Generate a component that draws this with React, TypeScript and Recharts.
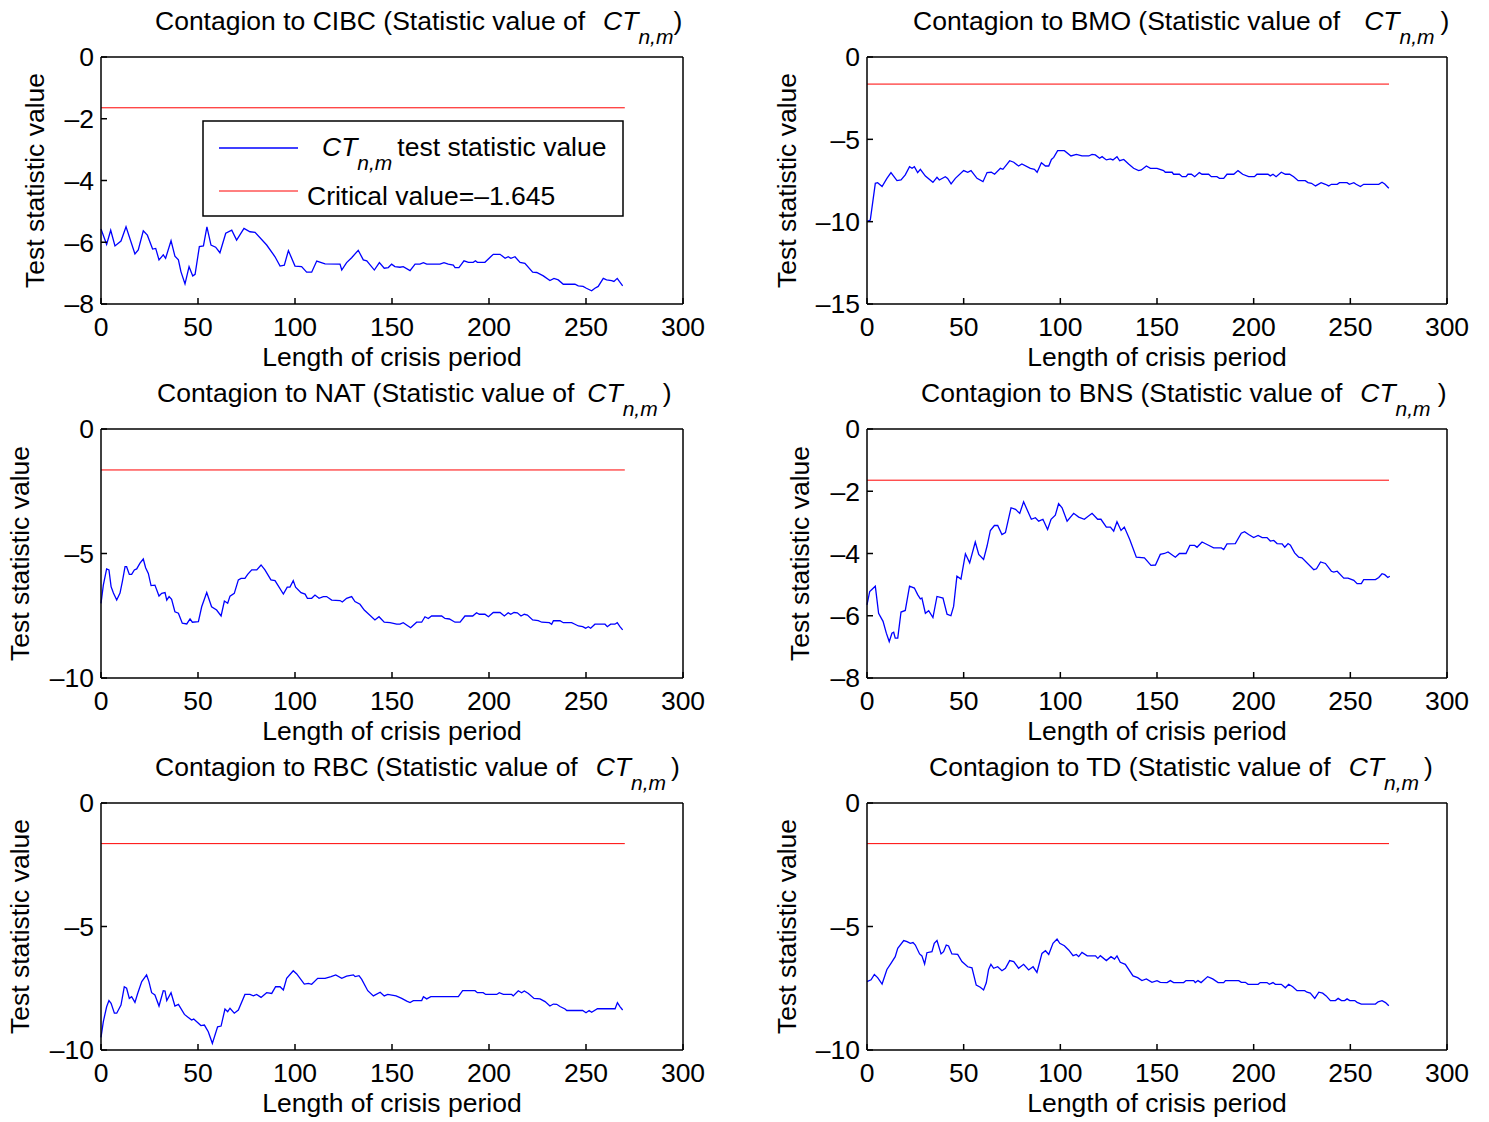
import React from "react";
import { LineChart, Line, XAxis, YAxis } from "recharts";

// Six MATLAB-style panels: CT_{n,m} contagion test statistic vs crisis length.

const FONT = "'Liberation Sans', Arial, Helvetica, sans-serif";
const FS = 26.5;

const xTicks = [0, 50, 100, 150, 200, 250, 300];
const criticalValue = -1.645;
const criticalSpan = [0, 270];

// [length of crisis period, statistic value]
const cibc: [number, number][] = [
  [0, -5.57], [2.9, -6.07], [5, -5.61], [7.2, -6.12], [10.3, -5.96], [12.9, -5.5], [17.5, -6.38], [19.2, -6.25],
  [21.8, -5.63], [23.9, -5.77], [26.6, -6.22], [28.2, -6.2], [29.9, -6.57], [32.1, -6.41], [33.3, -6.52], [36.1, -5.95],
  [38.1, -6.45], [39.9, -6.57], [41.2, -6.95], [43.3, -7.35], [45.4, -6.79], [47.3, -7.09], [48.5, -7.04], [50.7, -6.14],
  [52.8, -6.12], [54.6, -5.5], [56.7, -6.09], [59.1, -6.16], [61.3, -6.34], [64.3, -5.71], [67.4, -5.61], [69.9, -5.93],
  [73.7, -5.55], [76.8, -5.66], [79.4, -5.68], [85.4, -6.09], [89.7, -6.47], [92.3, -6.77], [94.5, -6.74], [96.6, -6.27],
  [100, -6.77], [103.4, -6.79], [106, -6.97], [108.6, -6.97], [111.2, -6.61], [115.5, -6.7], [123.2, -6.71], [124.1, -6.9],
  [126.6, -6.66], [129.2, -6.5], [132.6, -6.26], [135.2, -6.57], [137, -6.6], [140.9, -6.9], [143.5, -6.66], [146, -6.84],
  [148.1, -6.82], [149.8, -6.71], [151.5, -6.79], [154.1, -6.81], [155.8, -6.79], [159.3, -6.92], [161.9, -6.71],
  [164.4, -6.71], [166.2, -6.66], [167.9, -6.71], [174.7, -6.71], [176.8, -6.66], [179, -6.71], [181.6, -6.74],
  [182.5, -6.82], [184.5, -6.82], [187.1, -6.6], [189.4, -6.65], [191.9, -6.65], [193, -6.6], [194, -6.65], [197.9, -6.65],
  [202.2, -6.39], [205.7, -6.39], [208.3, -6.52], [209.9, -6.47], [211.3, -6.52], [213.4, -6.47], [216, -6.65],
  [218.5, -6.68], [222.5, -6.97], [224.6, -6.98], [228, -7.09], [231.4, -7.24], [233.5, -7.17], [235.7, -7.22],
  [238.3, -7.36], [244.3, -7.36], [246, -7.41], [248.5, -7.43], [250.2, -7.49], [252.9, -7.57], [254.6, -7.49],
  [256.3, -7.43], [258.9, -7.17], [260.6, -7.22], [263.2, -7.24], [264.4, -7.27], [266.1, -7.17], [267.2, -7.27],
  [268.9, -7.41],
];

const bmo: [number, number][] = [
  [0, -10.0], [1.7, -9.9], [4.3, -7.67], [5.5, -7.63], [7.8, -7.87], [10.3, -7.37], [12.4, -7.02], [15.5, -7.51],
  [17.6, -7.47], [19.8, -7.16], [22, -6.66], [23.3, -6.76], [24.5, -6.66], [26.2, -7.02], [27.6, -6.82], [30.2, -7.23],
  [34.1, -7.61], [36.2, -7.31], [37.4, -7.47], [40.5, -7.27], [41.7, -7.37], [43.5, -7.71], [45.7, -7.37], [50, -6.9],
  [52.1, -7.0], [53.8, -6.9], [56.9, -7.37], [60, -7.57], [62.1, -7.02], [64.3, -7.0], [66, -7.12], [69, -6.76],
  [70.3, -6.82], [73.8, -6.3], [75.9, -6.39], [78.4, -6.62], [80.1, -6.5], [84.5, -6.76], [86.6, -6.82], [88, -7.0],
  [90.2, -6.42], [92.3, -6.62], [94, -6.62], [95.4, -6.22], [96.6, -6.1], [98.6, -5.69], [102.1, -5.69], [105.5, -6.01],
  [108.3, -5.91], [111.2, -6.01], [114.7, -6.01], [116.4, -5.91], [118.1, -5.95], [120.3, -6.15], [121.6, -6.05],
  [123.8, -6.25], [125.9, -6.19], [127.2, -6.25], [129.3, -6.05], [130.7, -6.3], [132.8, -6.22], [135.3, -6.5],
  [137.9, -6.76], [140.5, -6.9], [141.9, -6.86], [144.5, -6.62], [146.6, -6.76], [150, -6.76], [153.4, -6.9],
  [154.3, -7.0], [157.8, -7.0], [158.6, -7.12], [161.6, -7.12], [163, -7.27], [165, -7.27], [166, -7.12], [167.8, -7.12],
  [169.5, -7.27], [171.9, -7.02], [173.3, -7.12], [176.7, -7.12], [178.1, -7.27], [181, -7.27], [182.3, -7.37],
  [184.5, -7.37], [186.2, -7.12], [189.7, -7.12], [191.9, -6.9], [194.3, -7.12], [197.4, -7.27], [200.4, -7.27],
  [201.7, -7.12], [207.4, -7.12], [208.6, -7.22], [210, -7.12], [211.6, -7.27], [214.3, -7.0], [216.4, -7.12],
  [218.6, -7.12], [220.7, -7.27], [223, -7.51], [226.7, -7.51], [228.1, -7.63], [229.9, -7.67], [232, -7.83],
  [234.9, -7.63], [237.1, -7.73], [238.8, -7.83], [240.2, -7.73], [243.2, -7.73], [244.4, -7.63], [248.3, -7.63],
  [249.5, -7.73], [251.8, -7.63], [253, -7.73], [255.2, -7.87], [256.9, -7.73], [264.7, -7.73], [266.4, -7.61],
  [267.8, -7.71], [269.9, -7.97],
];

const nat: [number, number][] = [
  [0, -7.0], [1.2, -6.27], [2.9, -5.62], [4.1, -5.66], [5.2, -6.33], [6.4, -6.59], [8.1, -6.87], [9.8, -6.59], [11, -6.13],
  [12.4, -5.53], [13.2, -5.53], [14.6, -5.84], [15.8, -5.84], [17.2, -5.66], [18.4, -5.62], [20.1, -5.39], [21.8, -5.22],
  [23, -5.57], [24.4, -5.8], [25.8, -6.29], [27.8, -6.27], [29.9, -6.71], [31.3, -6.6], [33, -6.57], [33.9, -6.87],
  [35.1, -6.73], [36.4, -6.84], [38.1, -7.34], [39.9, -7.4], [41.9, -7.8], [44.2, -7.83], [45.9, -7.63], [47.1, -7.76],
  [50.2, -7.74], [51.9, -7.14], [54.5, -6.57], [57, -7.14], [59.6, -7.27], [61.9, -7.51], [63.6, -6.91], [65.3, -7.0],
  [66.5, -6.71], [68.7, -6.6], [70.8, -6.06], [72.2, -6.0], [74.2, -6.0], [75.6, -5.84], [77.7, -5.66], [80.3, -5.66],
  [82.5, -5.46], [84.5, -5.66], [87.6, -6.06], [89.7, -6.09], [94, -6.63], [96, -6.35], [97.4, -6.35], [99.1, -6.09],
  [100.3, -6.35], [103.1, -6.57], [105.2, -6.63], [106.4, -6.8], [108.6, -6.8], [110.3, -6.67], [112.4, -6.8],
  [114.6, -6.73], [116.3, -6.73], [118.9, -6.87], [123.2, -6.89], [124.4, -6.95], [126.6, -6.8], [129.2, -6.73],
  [130.9, -6.93], [133.5, -7.04], [135.7, -7.27], [141.2, -7.67], [143.3, -7.54], [146, -7.76], [149, -7.78],
  [152.4, -7.84], [154.1, -7.84], [155.8, -7.78], [159.6, -7.98], [162.7, -7.76], [165.3, -7.76], [167, -7.54],
  [168.7, -7.61], [170.4, -7.51], [175.6, -7.51], [177.3, -7.61], [179.6, -7.63], [182.5, -7.76], [185.1, -7.76],
  [187.6, -7.51], [191.6, -7.51], [193.6, -7.38], [195, -7.44], [197.9, -7.44], [199.7, -7.54], [202.2, -7.37],
  [205.7, -7.37], [207.9, -7.51], [209.9, -7.38], [211.2, -7.44], [212.9, -7.37], [214.6, -7.38], [216.5, -7.51],
  [218.2, -7.44], [219.8, -7.47], [222.5, -7.67], [225.4, -7.7], [227.2, -7.76], [231.1, -7.78], [232.3, -7.84],
  [233.2, -7.7], [236.6, -7.7], [238.3, -7.78], [242.6, -7.78], [244.3, -7.84], [246.1, -7.91], [248.3, -7.94],
  [249.8, -8.0], [251.2, -7.94], [252.4, -8.0], [254.6, -7.84], [259.8, -7.84], [261, -7.94], [262.7, -7.84],
  [264.9, -7.84], [266.1, -7.78], [267.5, -7.94], [268.9, -8.07],
];

const bns: [number, number][] = [
  [0, -5.65], [1.4, -5.22], [4.3, -5.05], [6, -5.92], [8.3, -6.18], [10, -6.56], [11.5, -6.83], [12.9, -6.56],
  [13.8, -6.53], [14.6, -6.72], [15.9, -6.72], [17.6, -5.88], [19.8, -5.83], [22, -5.05], [24.5, -5.11], [26.2, -5.32],
  [27.6, -5.46], [28.4, -5.43], [30.2, -5.92], [31.9, -5.84], [34.1, -6.06], [36.2, -5.38], [39.3, -5.43], [41.4, -5.95],
  [43.4, -6.0], [44.8, -5.7], [46.5, -4.73], [48.6, -4.82], [50.9, -4.01], [53.1, -4.3], [56, -3.63], [57.8, -4.03],
  [60.3, -4.19], [62.1, -3.76], [63.8, -3.26], [65.9, -3.1], [67.6, -3.1], [69.8, -3.39], [71.6, -3.33], [74.5, -2.53],
  [76.8, -2.58], [79, -2.71], [81, -2.34], [85, -2.9], [87.1, -2.85], [88.8, -2.96], [91, -2.9], [93.4, -3.23],
  [95.2, -2.9], [97.4, -2.77], [99.1, -2.4], [100.9, -2.53], [103.5, -2.96], [106.9, -2.71], [109.5, -2.83],
  [112.4, -2.9], [116.4, -2.71], [119.3, -2.9], [121, -2.9], [123.8, -3.15], [125.9, -3.15], [127.6, -3.28],
  [129.3, -2.98], [131.4, -3.26], [133.1, -3.15], [135.9, -3.55], [139.3, -4.12], [143.5, -4.14], [146.9, -4.38],
  [149.2, -4.37], [151.7, -4.03], [153.9, -4.0], [155.7, -3.95], [159.5, -4.12], [161.6, -4.0], [165, -4.0],
  [167, -3.74], [169.5, -3.74], [170.7, -3.8], [173.3, -3.63], [175.9, -3.71], [179.3, -3.82], [183.3, -3.82],
  [184.5, -3.87], [186.2, -3.69], [190.5, -3.68], [193.6, -3.35], [195.3, -3.3], [197.4, -3.39], [200, -3.49],
  [202.3, -3.42], [204.4, -3.49], [206.9, -3.49], [208.6, -3.6], [210.4, -3.58], [212.1, -3.68], [214.7, -3.69],
  [216.1, -3.8], [217.8, -3.68], [219, -3.73], [221.2, -3.98], [223.3, -4.12], [225, -4.14], [231.1, -4.52],
  [232.5, -4.49], [234.6, -4.27], [237.1, -4.32], [240.2, -4.57], [241.4, -4.6], [243.2, -4.57], [246.6, -4.79],
  [248.8, -4.79], [251.8, -4.86], [253.5, -4.97], [255.7, -4.97], [256.9, -4.84], [263, -4.84], [264.7, -4.77],
  [266.4, -4.65], [267.8, -4.68], [269.4, -4.77], [270.4, -4.73],
];

const rbc: [number, number][] = [
  [0, -9.49], [1.2, -8.85], [2.9, -8.25], [4.1, -8.0], [5.2, -8.11], [6.9, -8.51], [8.1, -8.51], [10.3, -8.18],
  [12, -7.44], [13.2, -7.5], [14.6, -7.91], [15.8, -7.84], [17.5, -8.07], [18.9, -7.71], [21, -7.23], [23.5, -6.96],
  [24.7, -7.23], [26.1, -7.68], [27.8, -7.77], [29.9, -8.22], [32.1, -7.6], [33, -7.61], [33.9, -8.0], [36.1, -7.68],
  [38.1, -8.22], [39.9, -8.15], [43, -8.56], [46.7, -8.79], [47.8, -8.75], [51.5, -9.01], [53.3, -8.99], [55.3, -9.26],
  [57.4, -9.73], [60.1, -9.06], [61.9, -9.03], [63.9, -8.34], [65.3, -8.45], [66.5, -8.31], [68.7, -8.51],
  [70.8, -8.38], [74.2, -7.75], [76.8, -7.75], [78.5, -7.81], [80.2, -7.75], [82.5, -7.87], [85.4, -7.68], [88, -7.71],
  [90, -7.44], [92.3, -7.44], [94, -7.57], [95.7, -7.1], [99.1, -6.79], [100.9, -6.92], [104.8, -7.33], [106.9, -7.3],
  [108.6, -7.34], [111.7, -7.1], [115.5, -7.1], [118.6, -7.03], [121, -6.96], [124.1, -7.1], [126.6, -7.01],
  [130.1, -6.96], [131, -7.03], [133, -6.99], [134.4, -7.14], [137.5, -7.6], [140.4, -7.81], [143.9, -7.66],
  [146, -7.81], [147.8, -7.75], [152.1, -7.81], [155, -7.91], [157.6, -8.02], [159.3, -8.08], [161, -8.0],
  [165.3, -8.0], [166.2, -7.84], [167.9, -7.93], [170, -7.84], [184.2, -7.84], [186.4, -7.6], [192.8, -7.6],
  [194, -7.68], [197, -7.68], [198.3, -7.75], [204, -7.75], [205.3, -7.68], [207.4, -7.75], [211.7, -7.75],
  [212.5, -7.81], [215.1, -7.6], [216.8, -7.68], [218.2, -7.61], [220.3, -7.71], [223.2, -7.91], [226.3, -7.93],
  [228.9, -8.04], [231.4, -8.22], [233.2, -8.14], [234.9, -8.15], [236.6, -8.24], [239.2, -8.34], [240.1, -8.4],
  [248.3, -8.4], [250, -8.49], [251.6, -8.4], [252.9, -8.47], [255.9, -8.33], [265, -8.33], [266.2, -8.08],
  [267.5, -8.24], [268.9, -8.38],
];

const td: [number, number][] = [
  [0, -7.23], [2.1, -7.16], [3.8, -6.94], [5.5, -7.07], [7.8, -7.33], [10.3, -6.74], [12.4, -6.49], [14.6, -6.22],
  [15.9, -5.88], [19, -5.57], [20.7, -5.61], [22.4, -5.68], [23.8, -5.65], [25, -5.75], [27.2, -6.11], [28.4, -6.19],
  [29.8, -6.52], [31, -6.06], [33.6, -6.02], [34.8, -5.68], [36.2, -5.57], [38.3, -6.11], [39.6, -6.02], [41, -5.75],
  [42.2, -5.79], [43.9, -6.11], [46.9, -6.13], [49.1, -6.42], [52.1, -6.63], [54.3, -6.67], [56.5, -7.37],
  [58.6, -7.46], [60.3, -7.57], [61.7, -7.28], [62.9, -6.74], [64.1, -6.53], [65.5, -6.69], [67.6, -6.63],
  [69.8, -6.79], [71.6, -6.69], [73.8, -6.38], [75.9, -6.42], [78.4, -6.69], [81, -6.53], [83.6, -6.76], [85.9, -6.63],
  [87.9, -6.86], [90.5, -6.09], [92.3, -5.98], [94, -6.13], [96.2, -5.68], [98.3, -5.51], [99.7, -5.68], [102.1, -5.78],
  [104.3, -5.95], [106.6, -6.18], [108.3, -6.13], [109.5, -6.22], [111.2, -6.05], [113.9, -6.19], [118.2, -6.19],
  [119.4, -6.29], [120.7, -6.18], [123.8, -6.38], [126.2, -6.22], [128, -6.32], [129.3, -6.19], [131, -6.45],
  [133.6, -6.53], [137.6, -7.0], [140, -7.07], [142.2, -7.19], [144.5, -7.12], [147.4, -7.26], [150, -7.19],
  [151.7, -7.26], [155.2, -7.27], [156.9, -7.19], [158.6, -7.27], [163.8, -7.27], [165, -7.19], [169, -7.19],
  [169.8, -7.27], [171.2, -7.19], [172.8, -7.27], [176.2, -7.03], [178.8, -7.12], [181.6, -7.27], [184.5, -7.27],
  [185.4, -7.19], [192.3, -7.19], [193.6, -7.26], [195.7, -7.26], [197.1, -7.34], [202.3, -7.34], [203.4, -7.27],
  [206.9, -7.27], [208.1, -7.34], [210, -7.27], [211.2, -7.34], [214.3, -7.34], [216.4, -7.48], [218.1, -7.34],
  [220.2, -7.44], [222.4, -7.6], [226.4, -7.6], [227.6, -7.66], [229.3, -7.7], [231.6, -7.91], [233.7, -7.66],
  [235.7, -7.7], [237.5, -7.81], [239.7, -8.0], [242.3, -8.0], [243.7, -7.91], [245.4, -8.0], [247.1, -8.0],
  [248.3, -7.93], [249.7, -8.0], [252.3, -8.0], [253.5, -8.07], [255.7, -8.14], [263, -8.14], [264.4, -8.05],
  [266.4, -8.0], [268.2, -8.08], [269.9, -8.21],
];

const ticks8 = [-8, -6, -4, -2, 0];
const ticks10 = [-10, -5, 0];
const ticks15 = [-15, -10, -5, 0];

type Panel = {
  name: string;
  series: [number, number][];
  yMin: number;
  yTicks: number[];
  x: number; // plot left
  y: number; // plot top
  w: number;
  h: number;
  yLabelX: number;
  titleX: number;
  gapCT: number;
  gapParen: number;
};

const panels: Panel[] = [
  { name: "CIBC", series: cibc, yMin: -8, yTicks: ticks8, x: 101, y: 57, w: 582, h: 247, yLabelX: 34, titleX: 155, gapCT: 18, gapParen: 0 },
  { name: "BMO", series: bmo, yMin: -15, yTicks: ticks15, x: 867, y: 57, w: 580, h: 247, yLabelX: 20, titleX: 913, gapCT: 24, gapParen: 6 },
  { name: "NAT", series: nat, yMin: -10, yTicks: ticks10, x: 101, y: 429, w: 582, h: 249, yLabelX: 19, titleX: 157, gapCT: 13, gapParen: 5 },
  { name: "BNS", series: bns, yMin: -8, yTicks: ticks8, x: 867, y: 429, w: 580, h: 249, yLabelX: 33, titleX: 921, gapCT: 18, gapParen: 7 },
  { name: "RBC", series: rbc, yMin: -10, yTicks: ticks10, x: 101, y: 803, w: 582, h: 247, yLabelX: 19, titleX: 155, gapCT: 18, gapParen: 5 },
  { name: "TD", series: td, yMin: -10, yTicks: ticks10, x: 867, y: 803, w: 580, h: 247, yLabelX: 20, titleX: 929, gapCT: 18, gapParen: 5 },
];

const fmt = (v: number) => (v < 0 ? `\u2013${-v}` : `${v}`);
const tickStyle = { fill: "#000", fontSize: FS, fontFamily: FONT };
const labelStyle = { fill: "#000", fontSize: FS, fontFamily: FONT, textAnchor: "middle" as const };

const YW = 100; // left axis width
const TH = 1; // top axis height
const RW = 1; // right axis width
const MT = 24;
const MR = 30;
const XH = 70;

function PanelChart({ p }: { p: Panel }) {
  const rows = p.series.map(([t, v]) => ({ t, v }));
  const crit = criticalSpan.map((t) => ({ t, c: criticalValue }));
  const axisLine = { stroke: "#000", strokeWidth: 1.5 };
  return (
    <div style={{ position: "absolute", left: p.x - YW, top: p.y - MT - TH }}>
      <LineChart
        width={YW + p.w + RW + MR}
        height={MT + TH + p.h + XH}
        margin={{ top: MT, right: MR, bottom: 0, left: 0 }}
      >
        <XAxis
          xAxisId="b"
          dataKey="t"
          type="number"
          domain={[0, 300]}
          ticks={xTicks}
          interval={0}
          height={XH}
          tickSize={-6}
          tickMargin={19}
          axisLine={axisLine}
          tickLine={axisLine}
          tick={tickStyle}
          label={{ value: "Length of crisis period", position: "insideBottom", offset: 8, style: labelStyle }}
        />
        <XAxis
          xAxisId="t"
          orientation="top"
          dataKey="t"
          type="number"
          domain={[0, 300]}
          ticks={xTicks}
          interval={0}
          height={TH}
          tickSize={-6}
          tick={false}
          axisLine={axisLine}
          tickLine={axisLine}
        />
        <YAxis
          yAxisId="l"
          type="number"
          domain={[p.yMin, 0]}
          ticks={p.yTicks}
          interval={0}
          width={YW}
          tickSize={-6}
          tickMargin={13}
          tickFormatter={fmt}
          axisLine={axisLine}
          tickLine={axisLine}
          tick={tickStyle}
          label={{ value: "Test statistic value", angle: -90, position: "insideLeft", offset: p.yLabelX, style: labelStyle }}
        />
        <YAxis
          yAxisId="r"
          orientation="right"
          type="number"
          domain={[p.yMin, 0]}
          ticks={p.yTicks}
          interval={0}
          width={RW}
          tickSize={-6}
          tick={false}
          axisLine={axisLine}
          tickLine={axisLine}
        />
        <Line
          xAxisId="b"
          yAxisId="l"
          data={rows}
          dataKey="v"
          type="linear"
          stroke="#0000ff"
          strokeWidth={1.3}
          dot={false}
          isAnimationActive={false}
        />
        <Line
          xAxisId="b"
          yAxisId="l"
          data={crit}
          dataKey="c"
          type="linear"
          stroke="#ff0000"
          strokeWidth={1}
          dot={false}
          isAnimationActive={false}
        />
      </LineChart>
    </div>
  );
}

function Title({ p }: { p: Panel }) {
  return (
    <text x={p.titleX} y={p.y - 27} fontSize={FS} fontFamily={FONT} fill="#000">
      {`Contagion to ${p.name} (Statistic value of`}
      <tspan dx={p.gapCT} fontStyle="italic">CT</tspan>
      <tspan dy={14} fontSize={21} fontStyle="italic">n,m</tspan>
      <tspan dy={-14} dx={p.gapParen}>)</tspan>
    </text>
  );
}

export default function App() {
  return (
    <div style={{ position: "absolute", left: 0, top: 0, width: 1489, height: 1122, background: "#fff" }}>
      {panels.map((p) => (
        <PanelChart key={p.name} p={p} />
      ))}
      <svg
        width={1489}
        height={1122}
        style={{ position: "absolute", left: 0, top: 0, pointerEvents: "none" }}
      >
        {panels.map((p) => (
          <Title key={p.name} p={p} />
        ))}
        <g transform="translate(203,121)">
          <rect x={0} y={0} width={420} height={95} fill="#fff" stroke="#000" strokeWidth={1.5} />
          <line x1={16} y1={27} x2={95} y2={27} stroke="#0000ff" strokeWidth={1.3} />
          <text x={119} y={34.5} fontSize={FS} fontFamily={FONT} fill="#000">
            <tspan fontStyle="italic">CT</tspan>
            <tspan dy={14} fontSize={21} fontStyle="italic">n,m</tspan>
            <tspan dy={-14} dx={5}>test statistic value</tspan>
          </text>
          <line x1={16} y1={70} x2={95} y2={70} stroke="#ff0000" strokeWidth={1} />
          <text x={104} y={83.5} fontSize={FS} fontFamily={FONT} fill="#000">
            {"Critical value=\u20131.645"}
          </text>
        </g>
      </svg>
    </div>
  );
}
